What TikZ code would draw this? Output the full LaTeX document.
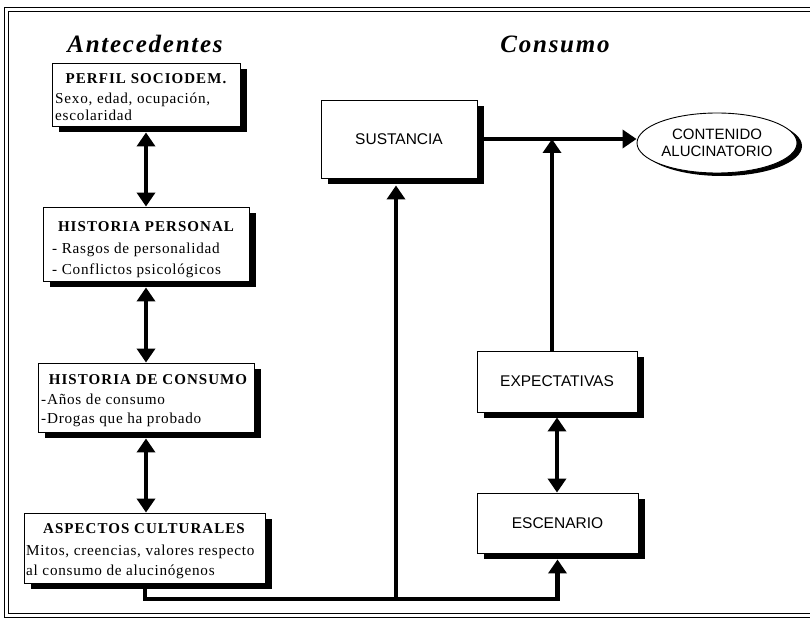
\documentclass[tikz,border=0pt]{standalone}
\usepackage{fontspec}
\setmainfont{Liberation Serif}
\newfontfamily\sansf{Liberation Sans}
\newfontfamily\tsp[LetterSpace=7]{Liberation Serif}
\newfontfamily\tspb[LetterSpace=5]{Liberation Serif}
\usetikzlibrary{arrows.meta,shapes.geometric,shadows}
\tikzset{
  box/.style={draw=black, line width=0.9pt, fill=white, inner sep=0pt,
    general shadow={fill=black, shadow xshift=7pt, shadow yshift=-6pt}},
  conn/.style={line width=4.5pt, line join=miter, >={Triangle[width=18pt,length=14pt]}},
  head/.style={anchor=base, inner sep=0pt, font=\tsp\bfseries\fontsize{15}{18}\selectfont},
  body/.style={anchor=base west, inner sep=0pt, font=\tspb\fontsize{15.2}{18}\selectfont},
  title/.style={anchor=base, inner sep=0pt, font=\tsp\bfseries\itshape\fontsize{25}{30}\selectfont},
  rbox/.style={box, font=\sansf\fontsize{15.5}{17}\selectfont},
  frame/.style={line width=0.9pt}
}
\begin{document}
\begin{tikzpicture}[x=1pt,y=-1pt]
\useasboundingbox (0,0) rectangle (810,620);
% frame
\draw[frame] (810,7) -- (4,7) -- (4,617) -- (810,617);
\draw[frame] (810,11) -- (8,11) -- (8,613) -- (810,613);
% titles
\node[title] (tA) at (145,53) {Antecedentes};
\node[title] (tC) at (555,53) {Consumo};
% left boxes
\node[box, minimum width=188pt, minimum height=63pt] (b1) at (146,94.5) {};
\node[head] (h1) at (146,84) {PERFIL SOCIODEM.};
\node[body] (l1a) at (55,104) {Sexo, edad, ocupación,};
\node[body] (l1b) at (55,121) {escolaridad};

\node[box, minimum width=206pt, minimum height=74pt] (b2) at (146,244) {};
\node[head] (h2) at (146,231) {HISTORIA PERSONAL};
\node[body] (l2a) at (52,253) {- Rasgos de personalidad};
\node[body] (l2b) at (52,274) {- Conflictos psicológicos};

\node[box, minimum width=216pt, minimum height=69pt] (b3) at (146,397.5) {};
\node[head] (h3) at (148,384) {HISTORIA DE CONSUMO};
\node[body] (l3a) at (41,404) {-Años de consumo};
\node[body] (l3b) at (41,423) {-Drogas que ha probado};

\node[box, minimum width=241pt, minimum height=70pt] (b4) at (144.5,548) {};
\node[head] (h4) at (144,533) {ASPECTOS CULTURALES};
\node[body] (l4a) at (26,555) {Mitos, creencias, valores respecto};
\node[body] (l4b) at (26,575) {al consumo de alucinógenos};

% right boxes
\node[rbox, minimum width=156pt, minimum height=78pt] (sus) at (399,139) {SUSTANCIA};
\node[rbox, minimum width=160pt, minimum height=61pt] (exp) at (557,381.5) {EXPECTATIVAS};
\node[rbox, minimum width=161pt, minimum height=60pt] (esc) at (557.5,523) {ESCENARIO};
\node[ellipse, draw=black, line width=0.9pt, fill=white, inner sep=0pt,
  minimum width=160pt, minimum height=60pt, align=center,
  font=\sansf\fontsize{15}{17}\selectfont,
  general shadow={fill=black, shadow xshift=5pt, shadow yshift=-3pt}] (ell) at (717,143)
  {CONTENIDO\\ALUCINATORIO};

% coordinates
\coordinate (j0) at (145,599);
\coordinate (j1) at (396,599);
\coordinate (j3) at (552,139);

% left arrows
\draw[conn,<->,shorten <=6pt] (b1.south) -- (b1.south |- b2.north);
\draw[conn,<->,shorten <=6pt] (b2.south) -- (b2.south |- b3.north);
\draw[conn,<->,shorten <=6pt] (b3.south) -- (b3.south |- b4.north);

% bottom connector
\draw[conn,->,shorten >=6pt] (j0 |- b4.south) -- (j0) -- (esc.south |- j0) -- (esc.south);
\draw[conn,->,shorten >=7pt] (j1) -- (j1 |- sus.south);

% top connectors
\draw[conn,->] (sus.east) -- (sus.east -| ell.west);
\draw[conn,->] (exp.north -| j3) -- (j3);
\draw[conn,<->,shorten <=5pt] (exp.south) -- (exp.south |- esc.north);
\end{tikzpicture}
\end{document}
